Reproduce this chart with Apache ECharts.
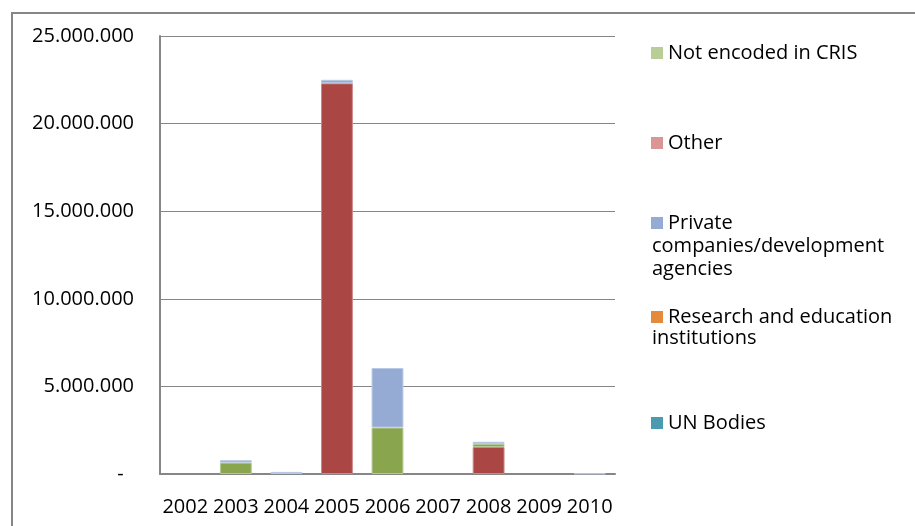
<!DOCTYPE html>
<html>
<head>
<meta charset="utf-8">
<script src="https://cdn.jsdelivr.net/npm/echarts@6/dist/echarts.min.js"></script>
<style>
html,body{margin:0;padding:0;background:#fff;}
#c{width:915px;height:526px;}
</style>
</head>
<body>
<div id="c"></div>
<script>
var years = ['2002','2003','2004','2005','2006','2007','2008','2009','2010'];
var seriesNames = ['Not encoded in CRIS','Other','Private companies/development agencies','Research and education institutions','UN Bodies'];
var otherVals      = [0, 0, 0, 22300000, 0, 0, 1540000, 0, 0];
var notEncodedVals = [0, 650000, 0, 0, 2650000, 0, 170000, 0, 0];
var privateVals    = [0, 140000, 120000, 200000, 3400000, 0, 130000, 0, 30000];
var researchVals   = [0, 0, 0, 0, 0, 0, 0, 0, 0];
var unVals         = [0, 0, 0, 0, 0, 0, 0, 0, 0];
var yTickValues = [0, 5000000, 10000000, 15000000, 20000000, 25000000];
var yTickLabels = ['-\u00a0\u00a0', '5.000.000', '10.000.000', '15.000.000', '20.000.000', '25.000.000'];

var FONT = '"Open Sans", "Noto Sans", sans-serif';
var barColors = {
  notEncoded: '#89A54E', other: '#AA4643', priv: '#95ABD3', research: '#DB843D', un: '#3D96AE'
};
var legendColors = ['#B9CD96', '#D99694', '#95ABD5', '#E5893C', '#4A9BAF'];
var legendFirst = ['Not encoded in CRIS', 'Other', 'Private', 'Research and education', 'UN Bodies'];
var legendTops = [43, 133, 213, 307, 413];

var chart = echarts.init(document.getElementById('c'), null, {renderer:'canvas'});

function clean(arr) { return arr.map(function (v) { return v === 0 ? '-' : v; }); }

function mkSeries(name, data, color, border) {
  return {
    name: name, type: 'bar', stack: 'total', data: clean(data),
    barCategoryGap: '37%',
    itemStyle: { color: color, borderColor: border, borderWidth: 1 },
    emphasis: { disabled: true }
  };
}

var legends = seriesNames.map(function (n, i) {
  return {
    show: true, orient: 'vertical', left: 651, top: legendTops[i], padding: 0,
    itemWidth: 12, itemHeight: 12, icon: 'rect',
    textStyle: { fontFamily: FONT, fontSize: 20, color: '#000' },
    data: [{ name: n, itemStyle: { color: legendColors[i], borderWidth: 0 } }],
    formatter: function () { return legendFirst[i]; },
    selectedMode: false
  };
});

var option = {
  animation: false,
  backgroundColor: '#fff',
  textStyle: { fontFamily: FONT },
  grid: { left: 160, right: 300, top: 36, bottom: 52, containLabel: false },
  legend: legends,
  xAxis: {
    type: 'category', data: years,
    axisLine: { show: true, lineStyle: { color: '#868686', width: 2 } },
    axisTick: { show: false },
    axisLabel: { fontFamily: FONT, fontSize: 20, color: '#000', margin: 23, interval: 0 }
  },
  yAxis: {
    type: 'value', min: 0, max: 25000000, interval: 5000000,
    axisLine: { show: true, lineStyle: { color: '#868686', width: 2 } },
    axisTick: { show: false },
    splitLine: { show: true, lineStyle: { color: '#868686', width: 1 } },
    axisLabel: {
      fontFamily: FONT, fontSize: 20, color: '#000', margin: 26,
      formatter: function (v) {
        var idx = yTickValues.indexOf(v);
        return idx >= 0 ? yTickLabels[idx] : '';
      }
    }
  },
  series: [
    mkSeries(seriesNames[1], otherVals, barColors.other, '#C98A88'),
    mkSeries(seriesNames[0], notEncodedVals, barColors.notEncoded, '#B5C996'),
    mkSeries(seriesNames[2], privateVals, barColors.priv, '#B9C9E5'),
    mkSeries(seriesNames[3], researchVals, barColors.research, '#E8A972'),
    mkSeries(seriesNames[4], unVals, barColors.un, '#7DB8C8')
  ],
  graphic: [
    { type: 'rect', shape: { x: 12, y: 13, width: 1000, height: 700 }, silent: true,
      style: { fill: 'none', stroke: '#868686', lineWidth: 2 }, z: -1 },
    { type: 'text', left: 652, top: 236, silent: true,
      style: { text: 'companies/development', font: '20px ' + FONT, fill: '#000' } },
    { type: 'text', left: 652, top: 259, silent: true,
      style: { text: 'agencies', font: '20px ' + FONT, fill: '#000' } },
    { type: 'text', left: 652, top: 328, silent: true,
      style: { text: 'institutions', font: '20px ' + FONT, fill: '#000' } }
  ]
};
chart.setOption(option);
</script>
</body>
</html>
